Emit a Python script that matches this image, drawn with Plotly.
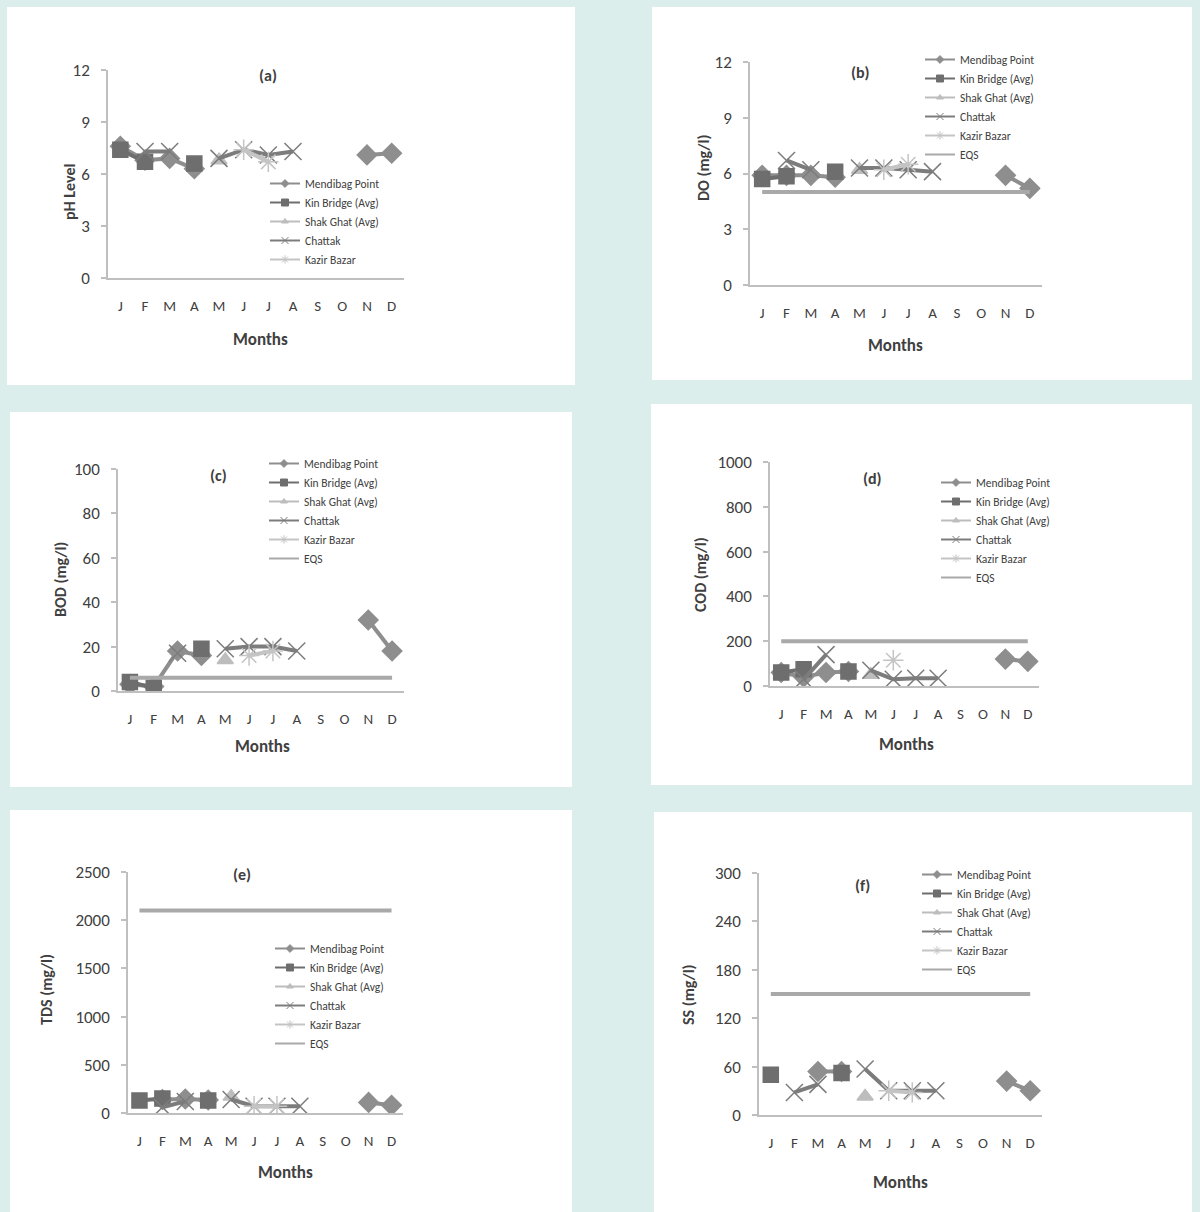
import plotly.graph_objects as go

W, H = 1200, 1212

# ---------------- data ----------------
months = ['J', 'F', 'M', 'A', 'M', 'J', 'J', 'A', 'S', 'O', 'N', 'D']
month_idx = [1, 2, 3, 4, 5, 6, 7, 8, 9, 10, 11, 12]
series_names = ['Mendibag Point', 'Kin Bridge (Avg)', 'Shak Ghat (Avg)', 'Chattak', 'Kazir Bazar', 'EQS']

N = None
# (a) pH
ph_mendibag = [7.6, 6.8, 6.9, 6.3, N, N, N, N, N, N, 7.1, 7.2]
ph_kin      = [7.4, 6.7, N, 6.6, N, N, N, N, N, N, N, N]
ph_shak     = [N, N, N, N, 6.8, N, N, N, N, N, N, N]
ph_chattak  = [N, 7.3, 7.3, N, 6.9, 7.4, 7.1, 7.3, N, N, N, N]
ph_kazir    = [N, N, N, N, N, 7.4, 6.7, N, N, N, N, N]

# (b) DO
do_mendibag = [5.9, 5.9, 5.9, 5.8, N, N, N, N, N, N, 5.9, 5.2]
do_kin      = [5.7, 5.85, N, 6.1, N, N, N, N, N, N, N, N]
do_shak     = [N, N, N, N, 6.2, N, N, N, N, N, N, N]
do_chattak  = [N, 6.7, 6.2, N, 6.3, 6.3, 6.2, 6.1, N, N, N, N]
do_kazir    = [N, N, N, N, N, 6.2, 6.5, N, N, N, N, N]
do_eqs      = [5, 5, 5, 5, 5, 5, 5, 5, 5, 5, 5, 5]

# (c) BOD
bod_mendibag = [3, 2, 18, 16, N, N, N, N, N, N, 32, 18]
bod_kin      = [4, 1.5, N, 19, N, N, N, N, N, N, N, N]
bod_shak     = [N, N, N, N, 14, N, N, N, N, N, N, N]
bod_chattak  = [N, N, 17, N, 19, 20, 20, 18, N, N, N, N]
bod_kazir    = [N, N, N, N, N, 16, 18, N, N, N, N, N]
bod_eqs      = [6, 6, 6, 6, 6, 6, 6, 6, 6, 6, 6, 6]

# (d) COD
cod_mendibag = [60, 40, 60, 65, N, N, N, N, N, N, 120, 110]
cod_kin      = [60, 75, N, 65, N, N, N, N, N, N, N, N]
cod_shak     = [N, N, N, N, 50, N, N, N, N, N, N, N]
cod_chattak  = [N, 30, 140, N, 70, 30, 35, 35, N, N, N, N]
cod_kazir    = [N, N, N, N, N, 115, N, N, N, N, N, N]
cod_eqs      = [200, 200, 200, 200, 200, 200, 200, 200, 200, 200, 200, 200]

# (e) TDS
tds_mendibag = [N, 140, 145, 135, N, N, N, N, N, N, 110, 80]
tds_kin      = [130, 150, N, 130, N, N, N, N, N, N, N, N]
tds_shak     = [N, N, N, N, 170, N, N, N, N, N, N, N]
tds_chattak  = [N, 60, 120, N, 140, 70, 70, 70, N, N, N, N]
tds_kazir    = [N, N, N, N, N, 70, 70, N, N, N, N, N]
tds_eqs      = [2100, 2100, 2100, 2100, 2100, 2100, 2100, 2100, 2100, 2100, 2100, 2100]

# (f) SS
ss_mendibag = [N, N, 54, 54, N, N, N, N, N, N, 42, 30]
ss_kin      = [50, N, N, 52, N, N, N, N, N, N, N, N]
ss_shak     = [N, N, N, N, 23, N, N, N, N, N, N, N]
ss_chattak  = [N, 28, 38, N, 57, 30, 30, 30, N, N, N, N]
ss_kazir    = [N, N, N, N, N, 30, 28, N, N, N, N, N]
ss_eqs      = [150, 150, 150, 150, 150, 150, 150, 150, 150, 150, 150, 150]

# ---------------- styles ----------------
FONT = "Carlito, Lato, sans-serif"
TXT = "#404040"
BG = "#dbeeec"
AXC = "#bfbfbf"
styles = [
    dict(color="#8e8e8e", symbol="diamond", size=15),
    dict(color="#6e6e6e", symbol="square", size=15),
    dict(color="#bdbdbd", symbol="triangle-up", size=14),
    dict(color="#7c7c7c", symbol="x-thin", size=17),
    dict(color="#c4c4c4", symbol="asterisk", size=17),
    dict(color="#a9a9a9", symbol=None, size=0),
]
leg_marker_size = [6, 7, 6, 7, 7, 0]


def px(x):
    return x / W


def py(y):
    return 1 - y / H


panels = [
    dict(tag='(a)', ytitle='pH Level', data=[ph_mendibag, ph_kin, ph_shak, ph_chattak, ph_kazir, None],
         yr=[0, 12], dt=3, box=(7, 7, 575, 385), plot=(108, 70, 404, 278),
         tagpos=(268, 75), ytpos=(69, 192), mpos=(260, 339), leg=(265, 169)),
    dict(tag='(b)', ytitle='DO (mg/l)', data=[do_mendibag, do_kin, do_shak, do_chattak, do_kazir, do_eqs],
         yr=[0, 12], dt=3, box=(652, 7, 1192, 380), plot=(750, 62, 1042, 285),
         tagpos=(860, 72), ytpos=(703, 168), mpos=(895, 345), leg=(920, 45)),
    dict(tag='(c)', ytitle='BOD (mg/l)', data=[bod_mendibag, bod_kin, bod_shak, bod_chattak, bod_kazir, bod_eqs],
         yr=[0, 100], dt=20, box=(10, 412, 572, 787), plot=(118, 469, 404, 691),
         tagpos=(218, 475), ytpos=(60, 580), mpos=(262, 746), leg=(264, 449)),
    dict(tag='(d)', ytitle='COD (mg/l)', data=[cod_mendibag, cod_kin, cod_shak, cod_chattak, cod_kazir, cod_eqs],
         yr=[0, 1000], dt=200, box=(651, 404, 1192, 785), plot=(770, 462, 1039, 686),
         tagpos=(872, 478), ytpos=(700, 575), mpos=(906, 744), leg=(936, 468)),
    dict(tag='(e)', ytitle='TDS (mg/l)', data=[tds_mendibag, tds_kin, tds_shak, tds_chattak, tds_kazir, tds_eqs],
         yr=[0, 2500], dt=500, box=(10, 810, 572, 1212), plot=(128, 872, 403, 1113),
         tagpos=(242, 874), ytpos=(47, 990), mpos=(285, 1172), leg=(270, 934)),
    dict(tag='(f)', ytitle='SS (mg/l)', data=[ss_mendibag, ss_kin, ss_shak, ss_chattak, ss_kazir, ss_eqs],
         yr=[0, 300], dt=60, box=(654, 812, 1192, 1212), plot=(759, 873, 1042, 1115),
         tagpos=(862, 885), ytpos=(688, 995), mpos=(900, 1182), leg=(917, 860)),
]

fig = go.Figure()
layout = dict(
    width=W, height=H, margin=dict(l=0, r=0, t=0, b=0, autoexpand=False),
    paper_bgcolor=BG, plot_bgcolor="white",
    font=dict(family=FONT, color=TXT),
    shapes=[], annotations=[],
)


def ann(text, x, y, size, angle=0):
    return dict(text=text, xref='paper', yref='paper', x=px(x), y=py(y), showarrow=False,
                xanchor='center', yanchor='middle', textangle=angle,
                font=dict(size=size, color=TXT, family=FONT))


for i, p in enumerate(panels):
    n = i + 1
    xa = 'x' if n == 1 else f'x{n}'
    ya = 'y' if n == 1 else f'y{n}'
    lg = 'legend' if n == 1 else f'legend{n}'
    x0, y0, x1, y1 = p['plot']
    # data traces
    for k, (vals, st, name) in enumerate(zip(p['data'], styles, series_names)):
        if vals is None:
            continue
        if st['symbol'] is None:
            fig.add_trace(go.Scatter(x=month_idx, y=vals, name=name, mode='lines',
                                     line=dict(color=st['color'], width=4),
                                     showlegend=False, xaxis=xa, yaxis=ya))
        else:
            fig.add_trace(go.Scatter(x=month_idx, y=vals, name=name, mode='lines+markers',
                                     line=dict(color=st['color'], width=4),
                                     marker=dict(symbol=st['symbol'], size=st['size'], color=st['color'],
                                                 line=dict(color=st['color'], width=1.5)),
                                     connectgaps=False, showlegend=False,
                                     xaxis=xa, yaxis=ya))
    # legend keys (legend-only entries with small markers like the original)
    for k, (vals, st, name) in enumerate(zip(p['data'], styles, series_names)):
        if vals is None:
            continue
        if st['symbol'] is None:
            fig.add_trace(go.Scatter(x=[None], y=[None], name=name, mode='lines',
                                     line=dict(color=st['color'], width=2),
                                     xaxis=xa, yaxis=ya, legend=lg))
        else:
            fig.add_trace(go.Scatter(x=[None], y=[None], name=name, mode='lines+markers',
                                     line=dict(color=st['color'], width=2),
                                     marker=dict(symbol=st['symbol'], size=leg_marker_size[k], color=st['color'],
                                                 line=dict(color=st['color'], width=1)),
                                     xaxis=xa, yaxis=ya, legend=lg))
    xkey = 'xaxis' if n == 1 else f'xaxis{n}'
    ykey = 'yaxis' if n == 1 else f'yaxis{n}'
    layout[xkey] = dict(domain=[px(x0), px(x1)], anchor=ya, range=[0.5, 12.5],
                        tickvals=month_idx, ticktext=months, showgrid=False, zeroline=False,
                        showline=True, linecolor=AXC, linewidth=1.5, ticks='',
                        tickfont=dict(size=15, color=TXT, family=FONT), ticklabelstandoff=13,
                        fixedrange=True)
    layout[ykey] = dict(domain=[py(y1), py(y0)], anchor=xa, range=p['yr'], dtick=p['dt'],
                        showgrid=False, zeroline=False, showline=True, linecolor=AXC, linewidth=1.5,
                        ticks='outside', ticklen=5, tickcolor=AXC, tickwidth=1.5,
                        tickfont=dict(size=17, color=TXT, family=FONT), ticklabelstandoff=8,
                        fixedrange=True)
    layout[lg] = dict(x=px(p['leg'][0]), y=py(p['leg'][1]), xanchor='left', yanchor='top',
                      bgcolor='rgba(0,0,0,0)', font=dict(size=11.5, color=TXT, family=FONT),
                      itemsizing='trace', tracegroupgap=0)
    bx0, by0, bx1, by1 = p['box']
    layout['shapes'].append(dict(type='rect', xref='paper', yref='paper', layer='below',
                                 x0=px(bx0), x1=px(bx1), y0=py(by1), y1=py(by0),
                                 fillcolor='white', line=dict(width=0)))
    layout['annotations'].append(ann(f"<b>{p['tag']}</b>", *p['tagpos'], 16))
    layout['annotations'].append(ann(f"<b>{p['ytitle']}</b>", *p['ytpos'], 16, -90))
    layout['annotations'].append(ann("<b>Months</b>", *p['mpos'], 17))

fig.update_layout(**layout)
fig.write_html("out.html", config={"displayModeBar": False},
               post_script="document.body.style.margin='0';document.body.style.overflow='hidden';")
